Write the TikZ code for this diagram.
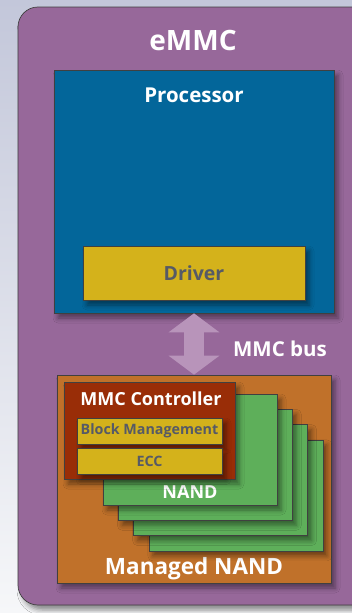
\documentclass[tikz,border=0pt]{standalone}
\usepackage{fontspec}
\setmainfont{Open Sans}
\usepackage{tikz}
\usetikzlibrary{positioning,shadows.blur,arrows.meta}

\definecolor{bgtop}{HTML}{C3C7DA}
\definecolor{bgbot}{HTML}{F6F7F9}
\definecolor{emmcpurple}{HTML}{97689A}
\definecolor{procblue}{HTML}{03669A}
\definecolor{chipyellow}{HTML}{D4B21B}
\definecolor{labelgray}{HTML}{565A66}
\definecolor{nandorange}{HTML}{C0712A}
\definecolor{ctrlred}{HTML}{992D07}
\definecolor{nandgreen}{HTML}{5EAF5A}
\definecolor{buspurple}{HTML}{B894BA}

\begin{document}
\begin{tikzpicture}[x=1pt,y=-1pt,
    box/.style={draw=black!75, line width=0.7pt, inner sep=0pt,
        blur shadow={shadow xshift=4pt, shadow yshift=-5pt, shadow blur radius=5pt, shadow opacity=45}},
    title/.style={text=white, inner sep=0pt},
    inlay/.style={box, fill=chipyellow, text=labelgray, font=\bfseries\fontsize{14.3}{16}\selectfont},
    bus/.style={draw=buspurple, line width=20pt,
        {Triangle[width=50pt,length=19pt]}-{Triangle[width=50pt,length=19pt]}}]

    \useasboundingbox (0,0) rectangle (352,613);
    \clip (0,0) rectangle (352,613);
    \shade [top color=bgtop, bottom color=bgbot] (0,0) rectangle (352,613);

    % outer eMMC package
    \node [box, fill=emmcpurple, rounded corners=20pt, minimum width=356pt, minimum height=598pt] (emmc) at (196,306) {};
    \node [title, below=23pt of emmc.north, xshift=-3pt, font=\bfseries\fontsize{28}{30}\selectfont] (emmclbl) {eMMC};

    % processor with driver
    \node [box, fill=procblue, minimum width=280pt, minimum height=243pt] (proc) at (194,191.5) {};
    \node [title, below=18pt of proc.north, font=\bfseries\fontsize{20.5}{22}\selectfont] (proclbl) {Processor};
    \node [inlay, above=13pt of proc.south, minimum width=222pt, minimum height=54pt,
        font=\bfseries\fontsize{19.5}{22}\selectfont] (drv) {Driver};

    % managed NAND
    \node [box, fill=nandorange, minimum width=274pt, minimum height=208pt] (mnand) at (194,479) {};
    \node [title, above=3pt of mnand.south, font=\bfseries\fontsize{22.5}{24}\selectfont] (mnandlbl) {Managed NAND};

    \draw [bus] (proc.south) -- (mnand.north);
    \node [title, font=\bfseries\fontsize{20.5}{22}\selectfont] (buslbl) at (280,349) {MMC bus};

    % stacked NAND dies, back to front
    \foreach \i in {3,2,1,0}
        \node [box, fill=nandgreen, minimum width=174pt, minimum height=111pt] (nand\i) at (190+15.3*\i,449.5+15.3*\i) {};
    \node [title, above=7pt of nand0.south, font=\bfseries\fontsize{18}{20}\selectfont] (nandlbl) {NAND};

    % controller
    \node [box, fill=ctrlred, minimum width=171pt, minimum height=97pt] (ctrl) at (149.5,430.5) {};
    \node [title, below=10pt of ctrl.north, xshift=1.5pt, font=\bfseries\fontsize{18}{20}\selectfont] (ctrllbl) {MMC Controller};
    \node [inlay, minimum width=145pt, minimum height=26pt] (blkmgmt) at (149.5,431) {Block Management};
    \node [inlay, below=4pt of blkmgmt, minimum width=145pt, minimum height=26pt] (ecc) {ECC};
\end{tikzpicture}
\end{document}
